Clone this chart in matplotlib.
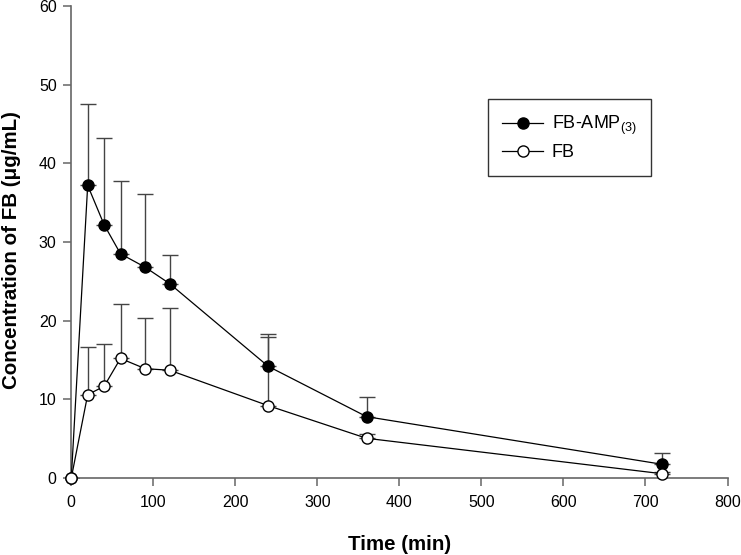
import matplotlib
matplotlib.use("Agg")
import matplotlib.pyplot as plt

plt.rcParams['font.family'] = ['Liberation Sans', 'DejaVu Sans']
plt.rcParams['mathtext.fontset'] = 'custom'
plt.rcParams['mathtext.rm'] = 'Liberation Sans'
plt.rcParams['mathtext.it'] = 'Liberation Sans'

time = [0, 20, 40, 60, 90, 120, 240, 360, 720]
amp_mean = [0, 37.2, 32.2, 28.5, 26.8, 24.7, 14.2, 7.8, 1.75]
amp_err = [0, 10.3, 11.0, 9.3, 9.3, 3.7, 4.1, 2.45, 1.4]
fb_mean = [0, 10.6, 11.65, 15.2, 13.9, 13.7, 9.2, 5.05, 0.55]
fb_err = [0, 6.1, 5.35, 6.9, 6.4, 7.95, 8.75, 0.6, 0.2]

fig = plt.figure(figsize=(7.41, 5.55), dpi=100)
ax = fig.add_axes([0.0962, 0.1387, 0.8856, 0.8505])

axc = '#666666'
ax.errorbar(time, amp_mean, yerr=[[0]*len(amp_err), amp_err], fmt='none',
            ecolor='#444444', elinewidth=1.0, capsize=6, capthick=1.0, zorder=2)
ax.errorbar(time, fb_mean, yerr=[[0]*len(fb_err), fb_err], fmt='none',
            ecolor='#444444', elinewidth=1.0, capsize=6, capthick=1.0, zorder=2)
ax.plot(time, amp_mean, color='black', lw=0.9, marker='o', markersize=8,
        markerfacecolor='black', markeredgecolor='black', label='FB-AMP$_{(3)}\\ \\ $',
        zorder=3, clip_on=False)
ax.plot(time, fb_mean, color='black', lw=0.9, marker='o', markersize=8,
        markerfacecolor='white', markeredgecolor='black', label='FB',
        zorder=4, clip_on=False)

ax.set_xlim(0, 800)
ax.set_ylim(0, 60)
ax.set_xticks(range(0, 801, 100))
ax.set_yticks(range(0, 61, 10))
for s in ['top', 'right']:
    ax.spines[s].set_visible(False)
for s in ['left', 'bottom']:
    ax.spines[s].set_color(axc)
    ax.spines[s].set_linewidth(1.2)
ax.tick_params(direction='out', length=6, width=1.1, color=axc, labelsize=11.5)
ax.tick_params(axis='x', pad=6)
ax.tick_params(axis='y', pad=4.5)
ax.set_xlabel('Time (min)', fontsize=14.8, fontweight='bold', labelpad=18)
ax.set_ylabel('Concentration of FB (μg/mL)', fontsize=14.8, fontweight='bold',
              labelpad=13, y=0.483)

leg = ax.legend(loc='upper left', bbox_to_anchor=(0.635, 0.802), frameon=True,
                fancybox=False, fontsize=13, handlelength=2.25, borderpad=0.8,
                labelspacing=0.4, handletextpad=0.47, borderaxespad=0)
leg.get_frame().set_edgecolor('black')
leg.get_frame().set_linewidth(1.0)

fig.savefig('out.png', dpi=100)
